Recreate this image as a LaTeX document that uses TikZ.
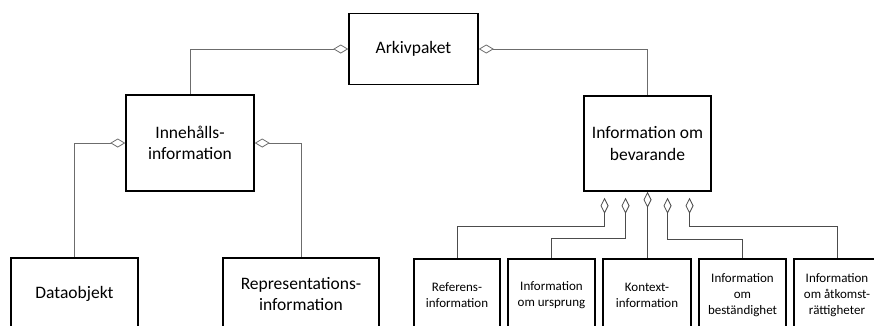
\documentclass[tikz,border=0pt]{standalone}
\usepackage{fontspec}
\setmainfont{Carlito}
\usetikzlibrary{arrows.meta}

\begin{document}
\begin{tikzpicture}[x=1pt, y=-1pt,
  box/.style={draw, line width=1.5pt, align=center, inner sep=2pt,
    font=\fontsize{17.5}{21.5}\selectfont},
  smallbox/.style={box, minimum height=72pt,
    font=\fontsize{13}{16}\selectfont},
  agg/.style={draw=gray!85!black, line width=0.8pt,
    {Diamond[open, length=15pt, width=9pt]}-},
  aggv/.style={agg, draw=gray!60!black, {Diamond[open, length=16pt, width=8pt]}-}]
  \useasboundingbox (0,0) rectangle (874,325);
  \clip (0,0) rectangle (874,325);

  % upper level
  \node[box, minimum width=129pt, minimum height=71pt] (ark) at (413.5,49) {Arkivpaket};
  \node[box, minimum width=128pt, minimum height=96pt] (inn) at (190,143) {Innehålls-\\information};
  \node[box, minimum width=127pt, minimum height=95pt] (bev) at (647.5,143.5) {Information om\\bevarande};

  % left branch
  \node[box, minimum width=127pt, minimum height=72pt] (dat) at (74.5,294) {Dataobjekt};
  \node[box, minimum width=156pt, minimum height=72pt] (rep) at (301,294) {Representations-\\information};

  % right branch
  \node[smallbox, minimum width=86pt] (ref) at (457,295) {Referens-\\information};
  \node[smallbox, minimum width=87pt] (urs) at (551.5,295) {Information\\om ursprung};
  \node[smallbox, minimum width=88pt] (kon) at (647,295) {Kontext-\\information};
  \node[smallbox, minimum width=87pt] (bes) at (742.5,295) {Information\\om\\beständighet};
  \node[smallbox, minimum width=86pt] (atk) at (837,295) {Information\\om åtkomst-\\rättigheter};

  \draw[agg] (ark.west) -| (inn.north);
  \draw[agg] (ark.east) -| (bev.north);
  \draw[agg] (inn.west) -| (dat.north);
  \draw[agg] (inn.east) -| (rep.north);

  \path (bev.south) ++(-43,6) coordinate (d1);
  \path (bev.south) ++(-22,6) coordinate (d2);
  \path (bev.south) ++(20,6) coordinate (d4);
  \path (bev.south) ++(42,6) coordinate (d5);

  \draw[aggv] (d1) -- ++(0,29) -| (ref.north);
  \draw[aggv] (d2) -- ++(0,41) -| (urs.north);
  \draw[aggv] (bev.south) -- (bev.south |- kon.north);
  \draw[aggv] (d4) -- ++(0,42) -| (bes.north);
  \draw[aggv] (d5) -- ++(0,29) -| (atk.north);
\end{tikzpicture}
\end{document}
